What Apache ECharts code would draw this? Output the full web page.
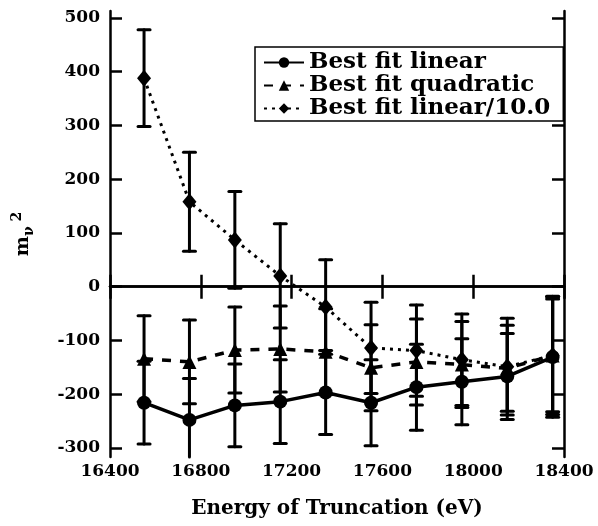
<!DOCTYPE html>
<html>
<head>
<meta charset="utf-8">
<script src="https://cdn.jsdelivr.net/npm/echarts@6/dist/echarts.min.js"></script>
<style>html,body{margin:0;padding:0;background:#fff}#c{width:598px;height:526px}</style>
</head>
<body>
<div id="c"></div>
<script>
// ---- data ----
const energies = [16550, 16750, 16950, 17150, 17350, 17550, 17750, 17950, 18150, 18350];
const linearVals = [-216, -248, -221, -214, -197, -216, -187, -177, -167, -131];
const linearErr  = [77, 77, 77, 78, 78, 80, 80, 80, 80, 112];
const quadVals   = [-134, -140, -118, -116, -121, -151, -140, -145, -152, -128];
const quadErr    = [80, 78, 80, 80, 80, 80, 80, 80, 80, 110];
const lin10Vals  = [388, 158, 87, 20, -38, -114, -119, -136, -149, -128];
const lin10Err   = [90, 92, 90, 97, 88, 85, 85, 85, 90, 105];
const yTicks = [-300, -200, -100, 0, 100, 200, 300, 400, 500];
const seriesNames = ['Best fit linear', 'Best fit quadratic', 'Best fit linear/10.0'];

const Y_MIN = -317, Y_MAX = 513;
const FONT = 'DejaVu Serif';

function pts(vals){ return energies.map((e,i)=>[e, vals[i]]); }
function errData(vals, errs){ return energies.map((e,i)=>[e, vals[i], errs[i]]); }

function errRender(params, api){
  const x = api.value(0), v = api.value(1), e = api.value(2);
  const lo = v - e, hi = v + e;
  const loC = Math.max(lo, Y_MIN), hiC = Math.min(hi, Y_MAX);
  const pT = api.coord([x, hiC]), pB = api.coord([x, loC]);
  const cw = 6;
  const style = {stroke:'#000', lineWidth:3, lineCap:'round'};
  const children = [{type:'line', shape:{x1:pT[0], y1:pT[1], x2:pB[0], y2:pB[1]}, style}];
  if (hi <= Y_MAX) children.push({type:'line', shape:{x1:pT[0]-cw, y1:pT[1], x2:pT[0]+cw, y2:pT[1]}, style});
  if (lo >= Y_MIN) children.push({type:'line', shape:{x1:pB[0]-cw, y1:pB[1], x2:pB[0]+cw, y2:pB[1]}, style});
  return {type:'group', children};
}

const chart = echarts.init(document.getElementById('c'));
const axisLine = {show:true, lineStyle:{color:'#000', width:2.5}};
const tick = {show:true, inside:true, length:12, lineStyle:{color:'#000', width:2.5}};
const labelStyle = {color:'#000', fontFamily:FONT, fontWeight:'bold', fontSize:17};

chart.setOption({
  animation:false,
  backgroundColor:'#fff',
  grid:{left:110, right:34, top:11, bottom:69},
  legend:{
    left:255, top:47, orient:'vertical',
    backgroundColor:'#fff', borderColor:'#000', borderWidth:1.5,
    padding:[4,13,1,8], itemGap:0, itemWidth:40, itemHeight:13,
    textStyle:{color:'#000', fontFamily:FONT, fontWeight:'bold', fontSize:23},
    data: seriesNames
  },
  xAxis:[{
    type:'value', min:16400, max:18400, interval:400,
    name:'Energy of Truncation (eV)', nameLocation:'middle', nameGap:42,
    nameTextStyle:{color:'#000', fontFamily:FONT, fontWeight:'bold', fontSize:20},
    axisLine, axisTick:tick, splitLine:{show:false},
    axisLabel:{...labelStyle, margin:6, formatter:(v)=>String(v)}
  },{
    type:'value', position:'top', min:16400, max:18400, interval:400,
    axisLine, axisTick:tick, splitLine:{show:false}, axisLabel:{show:false}
  }],
  yAxis:[{
    type:'value', min:Y_MIN, max:Y_MAX,
    name:'{a|m}{b|ν}{c| 2}', nameLocation:'middle', nameGap:74, nameRotate:90,
    nameTextStyle:{color:'#000', fontFamily:FONT, fontWeight:'bold',
      rich:{
        a:{fontFamily:FONT, fontWeight:'bold', fontSize:19, color:'#000', lineHeight:26, verticalAlign:'middle'},
        b:{fontFamily:FONT, fontWeight:'bold', fontSize:14, color:'#000', lineHeight:14, verticalAlign:'bottom'},
        c:{fontFamily:FONT, fontWeight:'bold', fontSize:14, color:'#000', lineHeight:14, verticalAlign:'top'}
      }},
    axisLine, splitLine:{show:false},
    axisTick:{...tick, customValues:yTicks},
    axisLabel:{...labelStyle, margin:10, customValues:yTicks, formatter:(v)=>String(v)}
  },{
    type:'value', position:'right', min:Y_MIN, max:Y_MAX,
    axisLine, splitLine:{show:false},
    axisTick:{...tick, customValues:yTicks},
    axisLabel:{show:false, customValues:yTicks}
  }],
  series:[
    {type:'custom', name:'errLinear', data:errData(linearVals, linearErr), renderItem:errRender, z:2},
    {type:'custom', name:'errQuad', data:errData(quadVals, quadErr), renderItem:errRender, z:2},
    {type:'custom', name:'errLin10', data:errData(lin10Vals, lin10Err), renderItem:errRender, z:2},
    {type:'line', name:seriesNames[0], data:pts(linearVals), symbol:'circle', symbolSize:14,
      itemStyle:{color:'#000'}, lineStyle:{color:'#000', width:3.5, type:'solid'}, z:3},
    {type:'line', name:seriesNames[1], data:pts(quadVals), symbol:'triangle', symbolSize:14,
      itemStyle:{color:'#000'}, lineStyle:{color:'#000', width:3.5, type:[9,9]}, z:3},
    {type:'line', name:seriesNames[2], data:pts(lin10Vals), symbol:'diamond', symbolSize:[14,17],
      itemStyle:{color:'#000'}, lineStyle:{color:'#000', width:3, type:[3,5]}, z:3}
  ]
});
</script>
</body>
</html>
